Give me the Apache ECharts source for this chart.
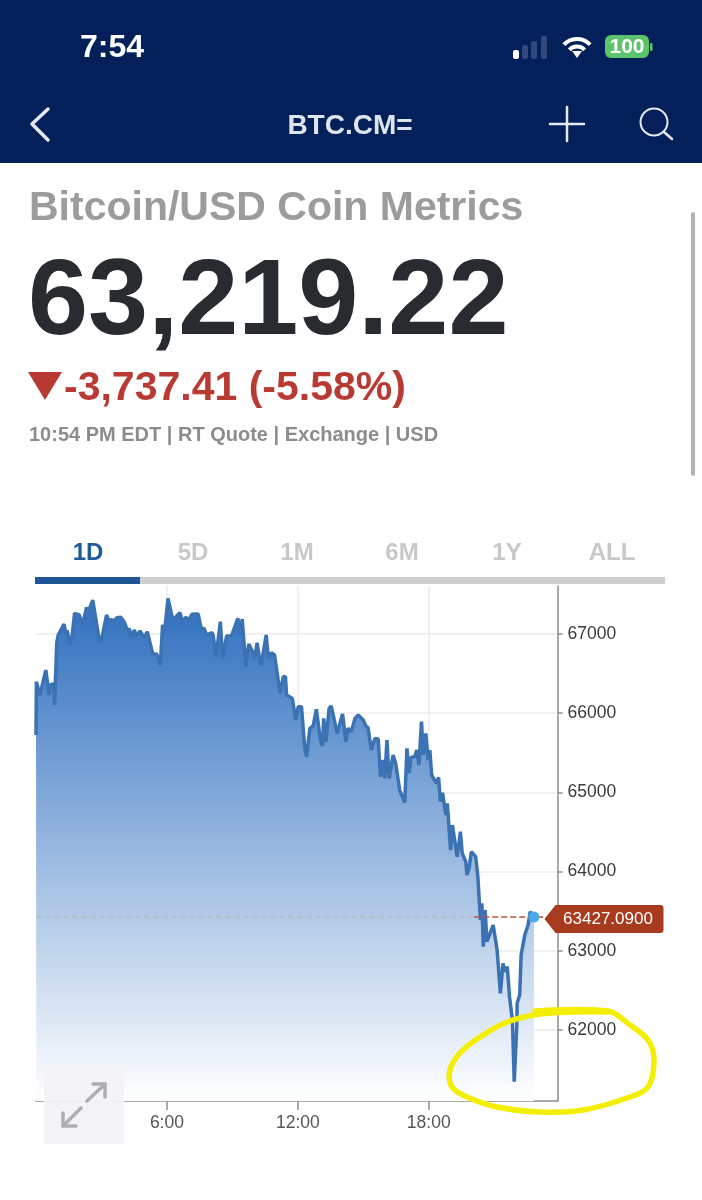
<!DOCTYPE html>
<html><head><meta charset="utf-8">
<style>html,body{margin:0;padding:0;background:#fff}#c{width:702px;height:1200px}</style>
<script src="https://cdn.jsdelivr.net/npm/echarts@6/dist/echarts.min.js"></script>
</head><body><div id="c"></div>
<script>
const minutes=[0,1,5,11,16,27,36,39,48,51,57,61,77,82,86,93,99,106,119,128,132,139,144,156,174,180,194,201,208,214,222,233,242,252,256,264,270,277,286,298,306,321,332,342,348,354,363,376,396,403,412,421,428,446,454,462,469,484,487,495,507,513,524,538,542,555,562,567,577,585,597,601,608,616,619,633,639,647,656,671,680,686,689,705,714,721,730,739,744,753,762,771,782,788,791,797,806,812,828,843,852,858,867,877,886,900,907,913,922,932,941,947,953,959,965,971,982,989,1000,1014,1020,1026,1031,1041,1047,1053,1060,1065,1072,1078,1083,1088,1101,1107,1112,1118,1127,1131,1140,1145,1158,1167,1172,1182,1185,1191,1197,1209,1215,1222,1226,1230,1235,1240,1257,1268,1277,1284,1290,1296,1302,1310,1315,1322,1323,1330,1334,1339,1344,1353,1359,1369];
const prices=[65725,66398,66390,66230,66251,66545,66230,66356,66369,66103,66882,66987,67126,67008,67042,66861,66966,67261,67240,67114,67114,67337,67282,67429,66924,66924,67240,67156,67185,67156,67206,67210,67156,67042,67071,66945,67050,66979,67038,66954,67029,66747,66747,66608,67114,67050,67450,67177,67269,67156,67210,67177,67248,67252,67071,67071,66987,67017,66987,66714,67156,66693,66975,66979,66966,67198,66987,67189,66587,66874,66764,66680,66890,66650,66608,66987,66693,66764,66735,66251,66461,66461,66230,66187,65914,66082,66082,65556,65451,65809,65838,66049,65661,65586,65935,65640,66061,66091,65745,65990,65640,65809,65767,65935,65977,65914,65838,65821,65535,65682,65674,65198,65409,65177,65661,65177,65472,65367,65030,64870,65556,65240,65442,65451,65535,65346,65893,65472,65745,65409,65535,65219,65114,65190,64883,64996,64714,64862,64272,64588,64188,64504,64230,64125,63957,64041,64252,64189,63936,63389,63599,63052,63515,63115,63326,63010,62463,62842,62736,62800,62421,62126,61347,62042,62337,62442,62947,62926,63199,63326,63494,63427];
const yTicks=[62000,63000,64000,65000,66000,67000];
const xTicks=[360,720,1080];
const xTickLabels={360:'6:00',720:'12:00',1080:'18:00'};
const lastPrice=63427.09, lastMinute=1369, dashSplit=1205, axisEnd=1434;
const tabs=['1D','5D','1M','6M','1Y','ALL'];
const tabX=[88,193,297,402,507,612];

const F='"Liberation Sans",Arial,sans-serif';
const txt=(x,y,text,size,fill,align,weight)=>({type:'text',z:20,style:{x,y,text,fill,textAlign:align||'left',textVerticalAlign:'middle',font:(weight||'bold')+' '+size+'px '+F}});
const rect=(x,y,w,h,fill,r)=>({type:'rect',z:20,shape:{x,y,width:w,height:h,r:r||0},style:{fill}});
const line=(pts,stroke,w,extra)=>({type:'polyline',z:21,shape:Object.assign({points:pts},extra||{}),style:{stroke,lineWidth:w,fill:null,lineCap:'round',lineJoin:'round'}});

const graphics=[
 rect(0,0,702,163,'#04205a'),
 txt(80,48,'7:54',32,'#ffffff'),
 rect(513,50,6,9,'#ffffff',2),rect(522,45,6,14,'#33487a',2),rect(531,41,6,18,'#33487a',2),rect(541,36,6,23,'#33487a',2),
 {type:'arc',z:21,shape:{cx:577,cy:57,r:18,startAngle:-Math.PI*0.76,endAngle:-Math.PI*0.24},style:{stroke:'#fff',lineWidth:4,fill:null}},
 {type:'arc',z:21,shape:{cx:577,cy:57,r:10.5,startAngle:-Math.PI*0.76,endAngle:-Math.PI*0.24},style:{stroke:'#fff',lineWidth:4,fill:null}},
 {type:'polygon',z:21,shape:{points:[[572,51],[582,51],[577,58]]},style:{fill:'#fff'}},
 rect(605,35,44,23,'#5cc46a',6),rect(650,43,2.5,8,'#5cc46a',1),
 txt(627,47,'100',21,'#ffffff','center'),
 line([[48,109],[32,124],[48,140]],'#e6e9f0',3.5),
 txt(350,126,'BTC.CM=',28,'#e0e4ec','center'),
 line([[550,124],[584,124]],'#e6e9f0',2.5),line([[567,107],[567,141]],'#e6e9f0',2.5),
 {type:'circle',z:21,shape:{cx:654,cy:122,r:13.5},style:{stroke:'#e6e9f0',lineWidth:2,fill:null}},
 line([[664,132],[672,139]],'#e6e9f0',2.5),
 rect(691,212,4,264,'#b5b5b5',2),
 txt(29,209,'Bitcoin/USD Coin Metrics',41,'#9a9c9e'),
 txt(28,304,'63,219.22',108,'#282c30'),
 {type:'polygon',z:21,shape:{points:[[28,372],[62,372],[45,400]]},style:{fill:'#b93a33'}},
 txt(64,389,'-3,737.41 (-5.58%)',41,'#b93a33'),
 txt(29,435,'10:54 PM EDT | RT Quote | Exchange | USD',20,'#8a8c8e'),
 ...tabs.map((t,i)=>txt(tabX[i],553,t,24,i===0?'#1f5a9a':'#c6c8ca','center')),
 rect(140,577,525,7,'#cdcfd1'),rect(35,577,105,7,'#1f5596'),
 rect(44,1066,80,78,'rgba(243,242,246,0.93)'),
 line([[87,1101],[105,1084]],'#aeaeb4',3.5),
 line([[93,1084],[105,1084],[105,1097]],'#aeaeb4',3.5),
 line([[81,1108],[63,1126]],'#aeaeb4',3.5),
 line([[63,1113],[63,1126],[76,1126]],'#aeaeb4',3.5),
 line([[535,1011],[608,1011],[630,1025],[648,1040],[654,1060],[648,1087],[627,1098],[583,1110],[540,1112],[497,1107],[467,1097],[452,1087],[450,1070],[460,1053],[480,1037],[507,1022],[540,1014],[573,1012],[608,1012]],'#f4ef00',5.5,{smooth:0.35})
];

const chart=echarts.init(document.getElementById('c'),null,{width:702,height:1200});
chart.setOption({
 animation:false,
 graphic:{elements:graphics},
 grid:{left:36,right:144.5,top:586,bottom:99,containLabel:false},
 xAxis:{type:'value',min:0,max:axisEnd,
  axisLine:{onZero:false,lineStyle:{color:'#8e8e8e',width:1.5}},
  axisTick:{customValues:xTicks,length:9,lineStyle:{color:'#8e8e8e',width:1.5}},
  axisLabel:{customValues:xTicks,formatter:v=>xTickLabels[v]||'',color:'#555',fontSize:17.5,fontFamily:F,margin:13},
  splitLine:{show:true,lineStyle:{color:'#ececec',width:1.5}}},
 yAxis:{type:'value',position:'right',min:61104,max:67606,
  axisLine:{show:true,onZero:false,lineStyle:{color:'#8e8e8e',width:1.5}},
  axisTick:{show:true,customValues:yTicks,length:5,lineStyle:{color:'#8e8e8e',width:1.5}},
  axisLabel:{customValues:yTicks,formatter:v=>String(v),color:'#3a3a3a',fontSize:17.5,fontFamily:F,margin:10,padding:[4,0,0,0]},
  splitLine:{show:true,lineStyle:{color:'#ececec',width:1.5}}},
 series:[{type:'line',data:minutes.map((m,i)=>[m,prices[i]]),showSymbol:false,symbol:'none',clip:false,
  lineStyle:{color:'#3a72b4',width:3.5,join:'bevel'},
  areaStyle:{opacity:1,color:new echarts.graphic.LinearGradient(0,0,0,1,[{offset:0,color:'#2f6fbf'},{offset:1,color:'#ffffff'}])},
  markLine:{silent:true,symbol:'none',label:{show:false},animation:false,data:[
    [{coord:[0,lastPrice],lineStyle:{color:'#b4b9c2',type:'dashed',width:1.5,opacity:.9}},{coord:[dashSplit,lastPrice]}],
    [{coord:[dashSplit,lastPrice],lineStyle:{color:'#b8553c',type:'dashed',width:1.5}},{coord:[axisEnd,lastPrice]}]
  ]},
  markPoint:{silent:true,animation:false,data:[
    {coord:[lastMinute,lastPrice],symbol:'circle',symbolSize:11,itemStyle:{color:'#4aa8ee'},label:{show:false}},
    {coord:[axisEnd,lastPrice],symbol:'path://M0,14 L11,0 L116,0 Q119,0 119,3 L119,25 Q119,28 116,28 L11,28 Z',symbolSize:[119,28],symbolKeepAspect:false,symbolOffset:[46.5,2],itemStyle:{color:'#a83a1e'},
     label:{show:true,position:'inside',offset:[4,0],formatter:()=>lastPrice.toFixed(4),color:'#fff',fontSize:17,fontFamily:F}}
  ]}
 }]
});
</script></body></html>
